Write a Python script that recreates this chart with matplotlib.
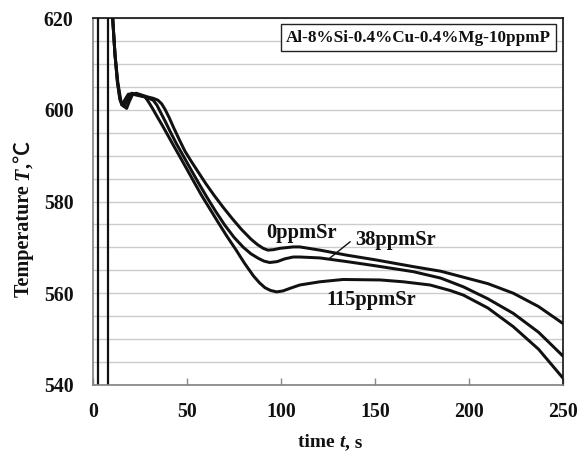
import numpy as np
import matplotlib
matplotlib.use("Agg")
import matplotlib.pyplot as plt
from matplotlib.ticker import MultipleLocator
from matplotlib.font_manager import FontProperties

FAM = ['Liberation Serif', 'DejaVu Serif', 'DejaVu Sans']
plt.rcParams['font.family'] = FAM

# ---------------- data ----------------
x_0ppm = [10.3, 11.7, 13.2, 14.8, 16.3, 17.9, 19.3, 21.0, 23.0, 26, 29, 32, 34.5, 36.5,
          38.3, 40.5, 43, 46, 49, 52.5, 56, 60, 64.5, 69.3, 74, 79, 84, 87.5, 90.5, 93,
          96, 99.5, 106.5, 110, 120.7, 135, 150, 170.4, 185, 197, 210, 223.6, 237, 250]
T_0ppm = [621, 612, 606, 602, 600.8, 600.3, 601.8, 603.3, 603.6, 603.2, 602.8, 602.5, 602.1, 601.3,
          600.1, 598.3, 596.0, 593.4, 590.9, 588.6, 586.4, 583.9, 581.3, 578.7, 576.3, 573.9, 571.8, 570.6, 569.8, 569.4,
          569.5, 569.8, 570.1, 570.1, 569.4, 568.3, 567.3, 565.8, 564.8, 563.5, 562.1, 560.0, 557.1, 553.4]

x_38ppm = [10.3, 11.7, 13.0, 14.5, 16.5, 18.5, 20.5, 23, 26, 29, 32, 34, 36, 38.5,
           41, 44.5, 48.9, 53, 56.9, 60.5, 65, 70, 75, 80, 84, 88, 91, 94, 98, 102,
           106.5, 110, 120.7, 135, 150, 170.4, 185, 197, 210, 223.6, 237, 250]
T_38ppm = [621, 612, 606, 602, 600.7, 602.2, 603.6, 603.4, 603.0, 602.6, 602.1, 601.0, 599.4, 597.4,
           595.3, 592.5, 589.3, 586.3, 583.5, 581.0, 578.0, 574.9, 572.2, 570.0, 568.6, 567.6, 567.0, 566.7, 566.9, 567.5,
           567.9, 567.9, 567.7, 566.9, 566.0, 564.7, 563.3, 561.4, 558.8, 555.6, 551.5, 546.3]

x_115ppm = [10.3, 11.7, 13.0, 14.2, 15.3, 17.0, 18.8, 21, 24, 27.7, 29.4, 31.5, 34, 37,
            40, 42.7, 46.3, 50, 53.4, 57.8, 62, 66.5, 71.1, 76, 80.5, 85.3, 88.5, 91.5, 94.5, 97.7,
            101, 105, 110, 120.7, 133, 152.7, 165, 179.3, 190, 197, 210, 223.6, 237, 250]
T_115ppm = [621, 612, 606, 602.5, 601.0, 602.2, 603.4, 603.4, 603.1, 602.8, 601.8, 600.4, 598.6, 596.5,
            594.3, 592.3, 589.7, 587.0, 584.5, 581.3, 578.5, 575.5, 572.5, 569.5, 566.6, 563.8, 562.3, 561.2, 560.6, 560.3,
            560.5, 561.1, 561.8, 562.5, 563.0, 562.9, 562.5, 561.8, 560.6, 559.6, 556.8, 552.7, 547.8, 541.5]

vline_x = [2.6, 8.1]

x_ticks = [0, 50, 100, 150, 200, 250]
y_ticks = [540, 560, 580, 600, 620]

series_labels = ['0ppmSr', '38ppmSr', '115ppmSr']
label_pos = [(111.2, 573.2), (161.2, 571.5), (148.1, 558.6)]
leader_x = [136.7, 126.1]
leader_T = [571.2, 567.7]
title_text = 'Al-8%Si-0.4%Cu-0.4%Mg-10ppmP'

# ---------------- figure ----------------
W, H = 579, 455
fig = plt.figure(figsize=(W / 100, H / 100), dpi=100)
ax = fig.add_axes([93 / W, 1 - 385 / H, 470 / W, 367 / H])
ax.set_xlim(0, 250)
ax.set_ylim(540, 620)

ax.yaxis.set_minor_locator(MultipleLocator(5))
ax.grid(which='both', axis='y', color='#cccccc', lw=1.0)
ax.set_axisbelow(True)

for xv in vline_x:
    ax.axvline(xv, color='#111111', lw=1.6)

for xs, ts in [(x_0ppm, T_0ppm), (x_38ppm, T_38ppm), (x_115ppm, T_115ppm)]:
    ax.plot(xs, ts, color='#111111', lw=2.15, solid_joinstyle='round', solid_capstyle='round')

ax.plot(leader_x, leader_T, color='#111111', lw=1.0)

for lab, (lx, lt) in zip(series_labels, label_pos):
    ax.text(lx, lt, lab, ha='center', va='center', fontsize=14.8, fontweight='bold', color='#111111')

ax.text((418.5 - 93) / 470, 1 - (37.5 - 18) / 367, title_text, transform=ax.transAxes,
        ha='center', va='center', fontsize=12.3, fontweight='bold', color='#111111',
        bbox=dict(boxstyle='square,pad=0.3', fc='white', ec='#222222', lw=1.0))

ax.set_xticks(x_ticks)
ax.set_yticks(y_ticks)
ax.set_xticklabels([str(v) for v in x_ticks])
ax.set_yticklabels([str(v) for v in y_ticks])
for lbl in ax.get_xticklabels() + ax.get_yticklabels():
    lbl.set_fontsize(14.3)
    lbl.set_fontweight('bold')
    lbl.set_color('#111111')
ax.tick_params(axis='x', which='major', direction='in', length=5, width=1, color='#888888', pad=12.5)
ax.tick_params(axis='y', which='both', length=0, pad=14)

ax.spines['left'].set_color('#808080')
ax.spines['bottom'].set_color('#808080')
ax.spines['top'].set_color('#111111')
ax.spines['right'].set_color('#111111')
for sp in ax.spines.values():
    sp.set_linewidth(1.2)

# ---------------- axis labels composed of pieces (italic variable) ----------------
renderer = fig.canvas.get_renderer()


def adv(s, prop):
    w1, _, _ = renderer.get_text_width_height_descent(s + 'I', prop, ismath=False)
    w2, _, _ = renderer.get_text_width_height_descent('I', prop, ismath=False)
    return w1 - w2


def compose(pieces, center, baseline, rotation):
    props = [FontProperties(family=fam, weight=wt, style=st, size=sz) for _, st, sz, fam, wt in pieces]
    widths = [adv(p[0], pr) for p, pr in zip(pieces, props)]
    total = sum(widths)
    pos = center - total / 2
    for p, pr, w in zip(pieces, props, widths):
        if rotation == 0:
            fig.text(pos, baseline, p[0], transform=None, fontproperties=pr, ha='left', va='baseline',
                     color='#111111')
        else:
            fig.text(baseline, pos, p[0], transform=None, fontproperties=pr, ha='left', va='baseline',
                     rotation=90, rotation_mode='anchor', color='#111111')
        pos += w


CJK = ['Noto Sans CJK JP', 'DejaVu Sans']
compose([('time ', 'normal', 14, FAM, 'bold'), ('t', 'italic', 14, FAM, 'bold'), (', s', 'normal', 14, FAM, 'bold')],
        center=330, baseline=H - 447, rotation=0)
compose([('Temperature ', 'normal', 14.5, FAM, 'bold'), ('T', 'italic', 14.5, FAM, 'bold'),
         (',', 'normal', 14.5, FAM, 'bold'), ('℃', 'normal', 16, CJK, 'medium')],
        center=H - 219, baseline=29, rotation=90)

fig.savefig('out.png', dpi=100)
